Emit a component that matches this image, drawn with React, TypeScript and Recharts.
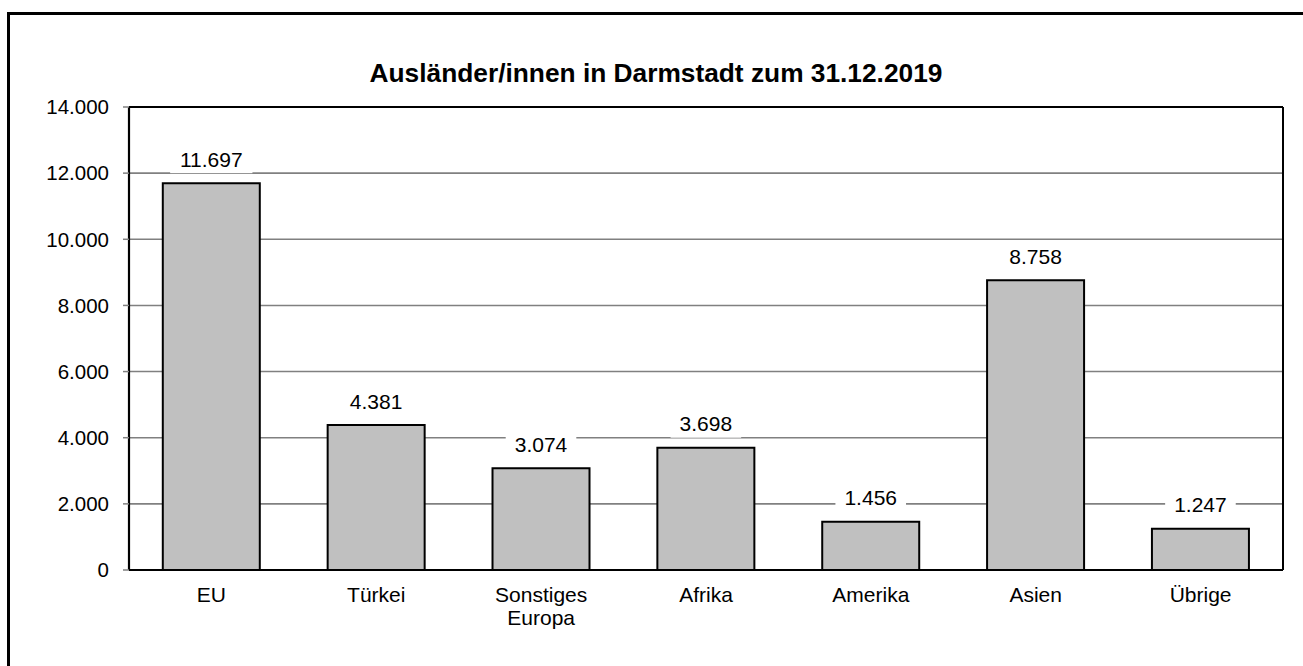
import React from "react";
import { ComposedChart, Bar, Line, XAxis, YAxis, CartesianGrid, LabelList, ReferenceLine } from "recharts";

const categories = ["EU", "Türkei", "Sonstiges Europa", "Afrika", "Amerika", "Asien", "Übrige"];
const values = [11697, 4381, 3074, 3698, 1456, 8758, 1247];
const yTicks = [0, 2000, 4000, 6000, 8000, 10000, 12000, 14000];
const boundaryTicks = [0, 1, 2, 3, 4, 5, 6, 7];

// pos = centre of each category slot on a 0..7 numeric axis (used for the boundary tick marks)
const data = categories.map((name, i) => ({ name, value: values[i], pos: i + 0.5 }));

const FONT = "'Liberation Sans', Arial, sans-serif";

// German thousands separator
const fmt = (v: number) => String(v).replace(/\B(?=(\d{3})+(?!\d))/g, ".");

const CatTick = (props: any) => {
  const { x, y, payload } = props;
  const lines = String(payload.value).split(" ");
  return (
    <text x={x} y={y} textAnchor="middle" fontSize={21} fill="#000" fontFamily={FONT}>
      {lines.map((l, i) => (
        <tspan key={i} x={x} dy={i === 0 ? 32 : 23}>
          {l}
        </tspan>
      ))}
    </text>
  );
};

const ValueLabel = (props: any) => {
  const { x, y, width, value } = props;
  const txt = fmt(Number(value));
  const cx = Number(x) + Number(width) / 2;
  const cy = Number(y) - 24;
  const tw = txt.split("").reduce((s, c) => s + (c === "." ? 5.8 : 11.7), 0);
  const bw = tw + 18;
  return (
    <g>
      <rect x={cx - bw / 2} y={cy - 14} width={bw} height={28} fill="#fff" />
      <text x={cx} y={cy + 7.5} textAnchor="middle" fontSize={21} fill="#000" fontFamily={FONT}>
        {txt}
      </text>
    </g>
  );
};

export default function App() {
  return (
    <div style={{ position: "fixed", left: 0, top: 0, width: 1303, height: 666, overflow: "hidden", background: "#fff" }}>
      <div
        style={{
          position: "absolute",
          left: 7,
          top: 12,
          width: 1400,
          height: 800,
          borderLeft: "3px solid #000",
          borderTop: "3px solid #000",
        }}
      />
      <div
        style={{
          position: "absolute",
          left: 7,
          top: 60,
          width: 1298,
          textAlign: "center",
          fontFamily: FONT,
          fontWeight: "bold",
          fontSize: 26.3,
          lineHeight: "26px",
          color: "#000",
        }}
      >
        Ausländer/innen in Darmstadt zum 31.12.2019
      </div>
      <div style={{ position: "absolute", left: 0, top: 0 }}>
        <ComposedChart
          width={1303}
          height={666}
          data={data}
          margin={{ top: 107, right: 20, bottom: 36, left: 0 }}
          barCategoryGap="20.5%"
        >
          <CartesianGrid vertical={false} stroke="#808080" strokeWidth={1.6} />
          <XAxis
            xAxisId={0}
            dataKey="pos"
            type="number"
            domain={[0, 7]}
            ticks={boundaryTicks}
            tick={false}
            tickSize={6}
            tickLine={{ stroke: "#555", strokeWidth: 1.5 }}
            axisLine={false}
            height={0}
            allowDataOverflow
          />
          <XAxis
            xAxisId="cat"
            dataKey="name"
            type="category"
            tick={<CatTick />}
            tickLine={false}
            tickSize={0}
            tickMargin={0}
            axisLine={{ stroke: "#000", strokeWidth: 2.2 }}
            height={60}
            interval={0}
          />
          <YAxis
            yAxisId={0}
            domain={[0, 14000]}
            ticks={yTicks}
            tickFormatter={fmt}
            width={129}
            tickSize={6}
            tickMargin={14}
            tickLine={{ stroke: "#808080", strokeWidth: 1.5 }}
            axisLine={{ stroke: "#000", strokeWidth: 2.2 }}
            tick={{ fontSize: 20.5, fill: "#000", fontFamily: FONT }}
            interval={0}
          />
          <Bar
            dataKey="value"
            xAxisId="cat"
            yAxisId={0}
            fill="#c0c0c0"
            stroke="#000"
            strokeWidth={2}
            isAnimationActive={false}
          >
            <LabelList dataKey="value" content={<ValueLabel />} />
          </Bar>
          <Line
            dataKey="value"
            xAxisId={0}
            yAxisId={0}
            stroke="none"
            dot={false}
            activeDot={false}
            legendType="none"
            isAnimationActive={false}
          />
          <ReferenceLine y={14000} xAxisId={0} yAxisId={0} stroke="#000" strokeWidth={2} />
          <ReferenceLine x={7} xAxisId={0} yAxisId={0} stroke="#000" strokeWidth={2} />
        </ComposedChart>
      </div>
    </div>
  );
}
